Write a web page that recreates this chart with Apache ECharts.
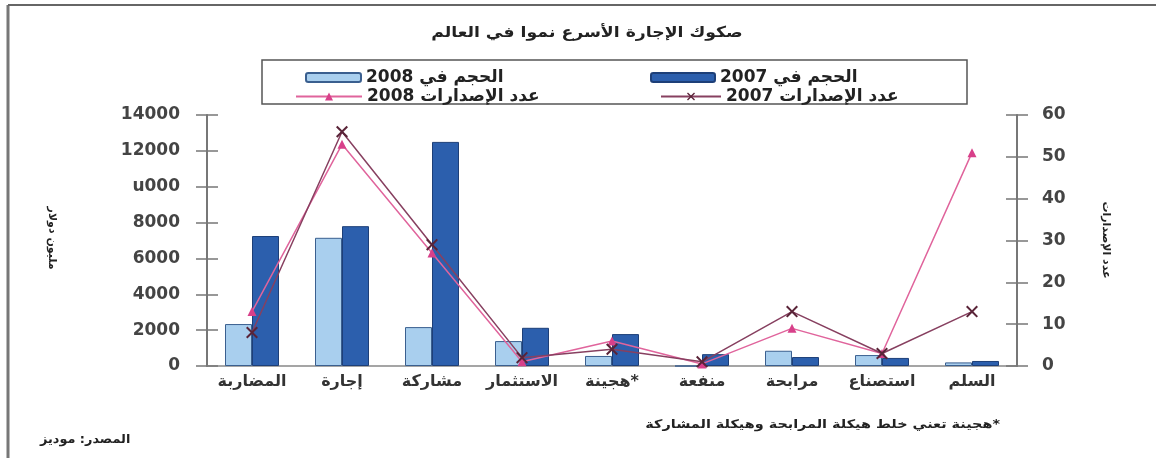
<!DOCTYPE html>
<html><head><meta charset="utf-8">
<script src="https://cdn.jsdelivr.net/npm/echarts@6/dist/echarts.min.js"></script>
<style>html,body{margin:0;padding:0;background:#fff}#c{width:1156px;height:458px}</style>
</head><body><div id="c"></div>
<script>
var R = '\u200F';
var categories = ['المضاربة','إجارة','مشاركة','الاستثمار','*هجينة','منفعة','مرابحة','استصناع','السلم'];
var volume2008 = [2340, 7150, 2170, 1390, 560, 0, 850, 610, 200];
var volume2007 = [7250, 7800, 12500, 2130, 1780, 660, 500, 450, 280];
var issues2007 = [8, 56, 29, 2, 4, 1, 13, 3, 13];
var issues2008 = [13, 53, 27, 1, 6, 0.5, 9, 3, 51];
var leftTicks = ['0','2000','4000','6000','8000','u000','12000','14000'];
var rightTicks = ['0','10','20','30','40','50','60'];

var names = {
  v08: 'الحجم في 2008',
  v07: 'الحجم في 2007',
  i08: 'عدد الإصدارات 2008',
  i07: 'عدد الإصدارات 2007'
};
var AR = "'DejaVu Sans',sans-serif";
var xPath = 'path://M0,1.2L1.2,0L5,3.8L8.8,0L10,1.2L6.2,5L10,8.8L8.8,10L5,6.2L1.2,10L0,8.8L3.8,5Z';

var chart = echarts.init(document.getElementById('c'), null, {renderer:'canvas'});
var legendBase = {orient:'horizontal', itemGap:7, textStyle:{fontFamily:AR, fontWeight:'bold', fontSize:17, color:'#222'}, selectedMode:false,
  formatter:function(n){ return R + n; }};
chart.setOption({
  animation:false,
  backgroundColor:'#fff',
  grid:{left:207, right:139, top:115, bottom:92},
  legend:[
    Object.assign({}, legendBase, {left:300, top:64, itemWidth:55, itemHeight:9, data:[names.v08]}),
    Object.assign({}, legendBase, {left:645, top:64, itemWidth:64, itemHeight:9, data:[names.v07]}),
    Object.assign({}, legendBase, {left:290, top:83, itemWidth:66, itemHeight:10, data:[names.i08]}),
    Object.assign({}, legendBase, {left:655, top:83, itemWidth:60, itemHeight:10, data:[names.i07]})
  ],
  xAxis:{
    type:'category', data:categories,
    axisLine:{lineStyle:{color:'#888', width:1.5}},
    axisTick:{inside:true, length:5, lineStyle:{color:'#777'}},
    axisLabel:{fontFamily:AR, fontSize:16, fontWeight:'bold', color:'#333', margin:8, interval:0,
      formatter:function(v){ return R + v; }}
  },
  yAxis:[
    {type:'value', min:0, max:14000, interval:2000, position:'left',
     axisLine:{show:true, lineStyle:{color:'#777', width:2}},
     axisTick:{show:true, length:11, lineStyle:{color:'#777', width:1.5}},
     splitLine:{show:false},
     axisLabel:{margin:27, fontFamily:AR, fontWeight:'bold', fontSize:17, color:'#444',
       formatter:function(v){ return leftTicks[Math.round(v/2000)]; }}},
    {type:'value', min:0, max:60, interval:10, position:'right',
     axisLine:{show:true, lineStyle:{color:'#777', width:2}},
     axisTick:{show:true, length:11, lineStyle:{color:'#777', width:1.5}},
     splitLine:{show:false},
     axisLabel:{margin:25, fontFamily:AR, fontWeight:'bold', fontSize:17, color:'#444',
       formatter:function(v){ return rightTicks[Math.round(v/10)]; }}},
    {type:'value', min:0, max:14000, interval:2000, position:'left',
     axisLine:{show:false}, axisLabel:{show:false}, splitLine:{show:false},
     axisTick:{show:true, inside:true, length:11, lineStyle:{color:'#777', width:1.5}}},
    {type:'value', min:0, max:60, interval:10, position:'right',
     axisLine:{show:false}, axisLabel:{show:false}, splitLine:{show:false},
     axisTick:{show:true, inside:true, length:11, lineStyle:{color:'#777', width:1.5}}}
  ],
  series:[
    {name:names.v08, type:'bar', yAxisIndex:0, data:volume2008, barWidth:27, barGap:'0%',
     itemStyle:{color:'#a9cfee', borderColor:'#3a5f8f', borderWidth:1}},
    {name:names.v07, type:'bar', yAxisIndex:0, data:volume2007, barWidth:27, barGap:'0%',
     itemStyle:{color:'#2c5fad', borderColor:'#1d3f78', borderWidth:1}},
    {name:names.i08, type:'line', yAxisIndex:1, data:issues2008, symbol:'triangle', symbolSize:9,
     lineStyle:{color:'#e0649c', width:1.5}, itemStyle:{color:'#d8408a'}, z:5},
    {name:names.i07, type:'line', yAxisIndex:1, data:issues2007, symbol:xPath, symbolSize:12,
     lineStyle:{color:'#874060', width:1.5}, itemStyle:{color:'#5a2438'}, z:6}
  ],
  graphic:[
    {type:'line', shape:{x1:8, y1:5, x2:8, y2:458}, style:{stroke:'#777', lineWidth:3}, silent:true},
    {type:'line', shape:{x1:8, y1:5, x2:1156, y2:5}, style:{stroke:'#666', lineWidth:2}, silent:true},
    {type:'rect', shape:{x:262, y:60, width:705, height:44}, style:{fill:'none', stroke:'#555', lineWidth:1.5}, silent:true},
    {type:'text', x:587, y:33, scaleX:1.15, style:{text:R + 'صكوك الإجارة الأسرع نموا في العالم', font:"bold 15px 'DejaVu Sans'", fill:'#222', textAlign:'center', textVerticalAlign:'middle'}},
    {type:'text', x:52, y:238, rotation:-Math.PI/2, style:{text:R + 'مليون دولار', font:"bold 11px 'DejaVu Sans'", fill:'#222', textAlign:'center', textVerticalAlign:'middle'}},
    {type:'text', x:1106, y:240, rotation:-Math.PI/2, style:{text:R + 'عدد الإصدارات', font:"bold 11px 'DejaVu Sans'", fill:'#222', textAlign:'center', textVerticalAlign:'middle'}},
    {type:'text', x:1000, y:425, scaleX:1.2, style:{text:R + '*هجينة تعني خلط هيكلة المرابحة وهيكلة المشاركة', font:"bold 12px 'DejaVu Sans'", fill:'#222', textAlign:'right', textVerticalAlign:'middle'}},
    {type:'text', x:40, y:440, scaleX:1.07, style:{text:R + 'المصدر: موديز', font:"bold 12px 'DejaVu Sans'", fill:'#222', textAlign:'left', textVerticalAlign:'middle'}}
  ]
});
</script></body></html>
